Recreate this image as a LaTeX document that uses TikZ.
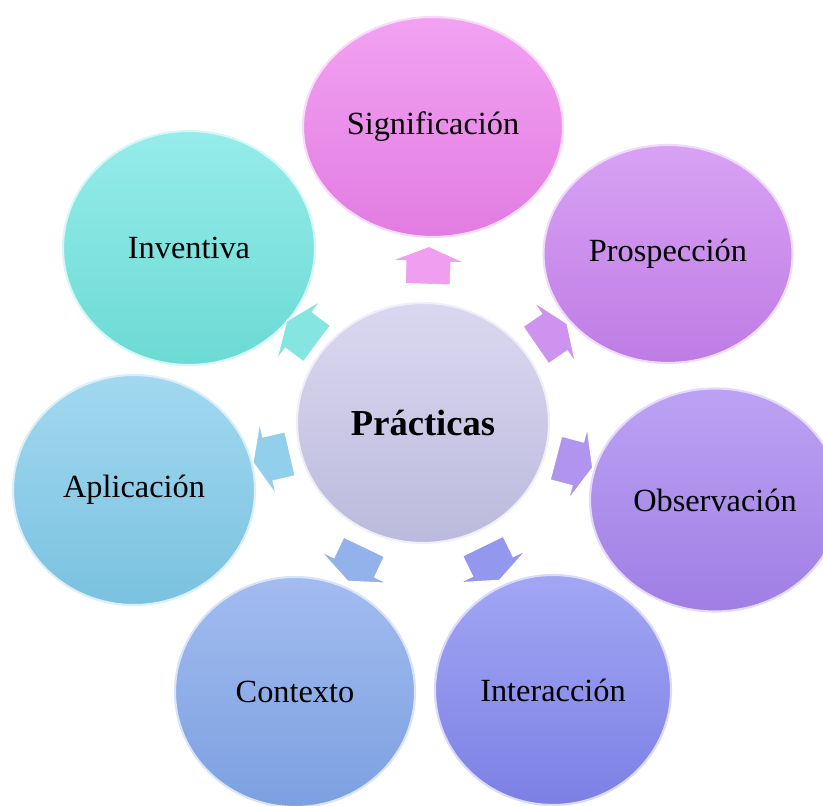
\documentclass[tikz,border=0pt]{standalone}
\usepackage{fontspec}
\setmainfont{Liberation Serif}
\usepackage{tikz}
\usetikzlibrary{shapes.geometric,shapes.arrows,positioning}

\definecolor{ctrtop}{RGB}{218,216,240}
\definecolor{ctrbot}{RGB}{188,186,220}
\definecolor{sigtop}{RGB}{242,162,242}
\definecolor{sigbot}{RGB}{226,124,226}
\definecolor{protop}{RGB}{216,162,244}
\definecolor{probot}{RGB}{190,124,228}
\definecolor{obstop}{RGB}{188,162,244}
\definecolor{obsbot}{RGB}{160,126,228}
\definecolor{inttop}{RGB}{162,166,244}
\definecolor{intbot}{RGB}{124,128,228}
\definecolor{contop}{RGB}{162,188,240}
\definecolor{conbot}{RGB}{124,160,224}
\definecolor{apltop}{RGB}{162,216,240}
\definecolor{aplbot}{RGB}{122,194,224}
\definecolor{invtop}{RGB}{150,236,234}
\definecolor{invbot}{RGB}{108,218,212}

\begin{document}
\begin{tikzpicture}[
    thick,
    font=\fontsize{23}{27}\selectfont
]

\tikzstyle{bubble}=[
    ellipse,
    line width=1.5pt,
    inner sep=0pt,
    align=center
]

\tikzstyle{spoke}=[
    single arrow,
    sloped,
    allow upside down,
    draw=white,
    line width=0.8pt,
    inner xsep=0pt,
    inner ysep=0.55cm,
    minimum height=0.95cm,
    single arrow head extend=0.36cm,
    single arrow tip angle=135
]

\useasboundingbox (0,0) rectangle (20.575,20.15);
\clip (0,0) rectangle (20.575,20.15);

% centre
\node[bubble, top color=ctrtop, bottom color=ctrbot, draw=ctrtop!40!white,
      minimum width=6.3cm, minimum height=6cm,
      font=\fontsize{26}{30}\selectfont\bfseries] (c) at (10.575,9.575) {Prácticas};

% ring
\node[bubble, top color=sigtop, bottom color=sigbot, draw=sigtop!40!white,
      minimum width=6.5cm, minimum height=5.5cm] (sig) at (10.825,16.975) {Significación};
\node[bubble, top color=protop, bottom color=probot, draw=protop!40!white,
      minimum width=6.225cm, minimum height=5.45cm] (pro) at (16.7,13.8) {Prospección};
\node[bubble, top color=obstop, bottom color=obsbot, draw=obstop!40!white,
      minimum width=6.25cm, minimum height=5.575cm] (obs) at (17.875,7.65) {Observación};
\node[bubble, top color=inttop, bottom color=intbot, draw=inttop!40!white,
      minimum width=5.9cm, minimum height=5.75cm] (int) at (13.825,2.9) {Interacción};
\node[bubble, top color=contop, bottom color=conbot, draw=contop!40!white,
      minimum width=6cm, minimum height=5.75cm] (con) at (7.375,2.85) {Contexto};
\node[bubble, top color=apltop, bottom color=aplbot, draw=apltop!40!white,
      minimum width=6.05cm, minimum height=5.75cm] (apl) at (3.35,7.9) {Aplicación};
\node[bubble, top color=invtop, bottom color=invbot, draw=invtop!40!white,
      minimum width=6.3cm, minimum height=5.85cm] (inv) at (4.725,13.95) {Inventiva};

% arrows out of the centre
\path (c) -- node[spoke, fill=sigtop!90!sigbot] {} (sig);
\path (c) -- node[spoke, fill=protop!60!probot] {} (pro);
\path (c) -- node[spoke, fill=obstop!60!obsbot] {} (obs);
\path (c) -- node[spoke, fill=inttop!60!intbot] {} (int);
\path (c) -- node[spoke, fill=contop!60!conbot] {} (con);
\path (c) -- node[spoke, fill=apltop!60!aplbot] {} (apl);
\path (c) -- node[spoke, fill=invtop!60!invbot] {} (inv);

\end{tikzpicture}
\end{document}
